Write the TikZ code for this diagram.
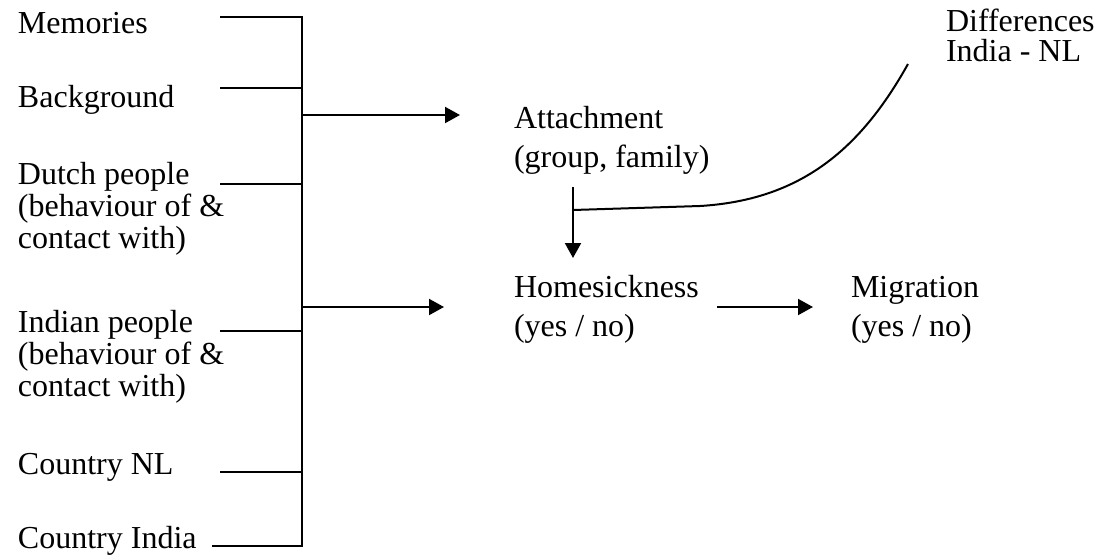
\documentclass[tikz,border=0pt]{standalone}
\usepackage{fontspec}
\setmainfont{Liberation Serif}
\usetikzlibrary{arrows.meta}

\begin{document}
\begin{tikzpicture}[x=0.5pt,y=-0.5pt,line width=1pt,
  lbl/.style={anchor=base west,inner sep=0pt,align=left,font=\fontsize{16}{16}\selectfont},
  lblw/.style={lbl,font=\fontsize{16}{19.5}\selectfont},
  arr/.style={-{Triangle[length=7.5pt,width=8pt]}}]
\useasboundingbox (0,0) rectangle (1100,558);

%%%%%%%%%%%%%-------------factors (base = last line)
\node[lbl] (mem) at (17,33) {Memories};
\node[lbl] (bgr) at (17,107) {Background};
\node[lbl] (dutch) at (17,248) {Dutch people\\(behaviour of \&\\contact with)};
\node[lbl] (indian) at (17,396) {Indian people\\(behaviour of \&\\contact with)};
\node[lbl] (cnl) at (17,474) {Country NL};
\node[lbl] (cind) at (17,548) {Country India};

%%%%%%%%%%%%%-------------bracket
\coordinate (btop) at (302,17);
\coordinate (bbot) at (302,546);
\draw (220,17) -- (btop) -- (bbot) -- (212,546);
\foreach \y in {88,184,331,472}{
\draw (220,\y) -- (302,\y);}

%%%%%%%%%%%%%-------------model
\node[lblw] (attach) at (513,167) {Attachment\\(group, family)};
\node[lblw] (home) at (513,336) {Homesickness\\(yes / no)};
\node[lblw] (migr) at (850,336) {Migration\\(yes / no)};
\node[lbl,font=\fontsize{16}{15}\selectfont] (diff) at (945,61) {Differences\\India - NL};

\coordinate (att in) at (460,115);
\coordinate (home in) at (444,307);
\draw[arr] (302,115) -- (att in);
\draw[arr] (302,307) -- (home in);

\coordinate (att out) at (573,187);
\coordinate (home top) at (573,258);
\draw[arr] (att out) -- (home top);

\coordinate (diff out) at (908,64);
\draw (573,210) -- (700,206) .. controls (800,200) and (860,150) .. (diff out);

\coordinate (migr in) at (813,307);
\draw[arr] (717,307) -- (migr in);

\end{tikzpicture}
\end{document}
